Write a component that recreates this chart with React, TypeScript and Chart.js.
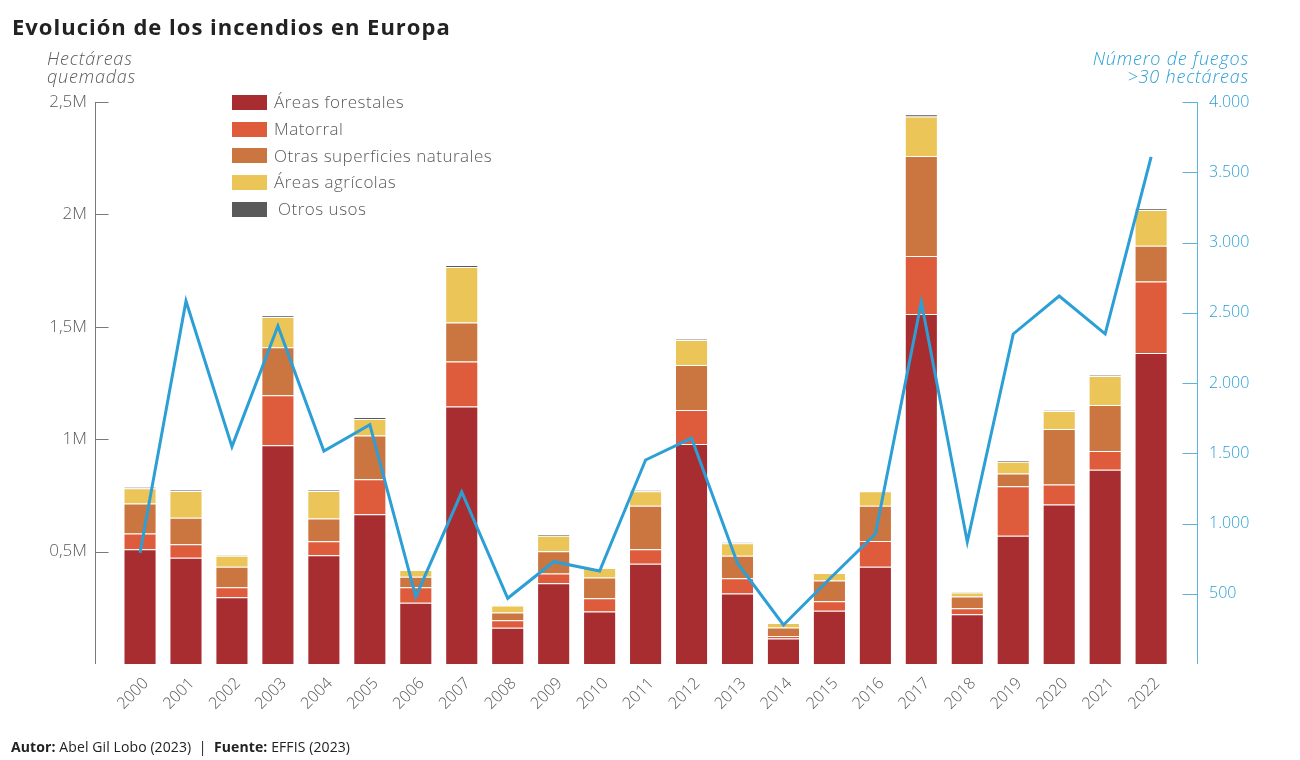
import React, { useEffect, useRef } from 'react';
import { Chart, registerables } from 'chart.js';

Chart.register(...registerables);

// Years on the horizontal axis
const years = [
  '2000', '2001', '2002', '2003', '2004', '2005', '2006', '2007', '2008', '2009', '2010', '2011',
  '2012', '2013', '2014', '2015', '2016', '2017', '2018', '2019', '2020', '2021', '2022',
];

// Burnt area by land cover (hectares)
const forestales = [
  510000, 473000, 297000, 973000, 484000, 666000, 273000, 1146000, 161000, 359000, 233000, 446000,
  979000, 314000, 113000, 237000, 433000, 1557000, 221000, 571000, 710000, 864000, 1383000,
];
const matorral = [
  71000, 60000, 44000, 222000, 62000, 156000, 68000, 200000, 34000, 44000, 60000, 64000,
  151000, 68000, 12000, 42000, 114000, 258000, 27000, 220000, 89000, 83000, 319000,
];
const otrasNaturales = [
  133000, 118000, 92000, 214000, 101000, 194000, 47000, 173000, 34000, 99000, 92000, 194000,
  200000, 99000, 37000, 92000, 157000, 445000, 52000, 56000, 246000, 205000, 158000,
];
const agricolas = [
  68000, 119000, 49000, 135000, 123000, 74000, 30000, 247000, 31000, 69000, 42000, 65000,
  111000, 56000, 20000, 34000, 64000, 175000, 18000, 53000, 80000, 129000, 160000,
];
const otrosUsos = [
  5000, 4000, 2000, 6000, 4000, 8000, 1000, 9000, 1000, 5000, 1000, 4000,
  4000, 4000, 0, 0, 1000, 11000, 2000, 5000, 4000, 4000, 6000,
];

// Number of fires larger than 30 ha
const fuegos = [
  792, 2583, 1547, 2406, 1516, 1703, 479, 1224, 468, 728, 662, 1452,
  1608, 717, 278, 605, 925, 2576, 870, 2349, 2619, 2349, 3610,
];

// Axis tick values and their labels
const areaTicks = [0, 500000, 1000000, 1500000, 2000000, 2500000];
const areaTickLabels = ['', '0,5M', '1M', '1,5M', '2M', '2,5M'];
const fireTicks = [0, 500, 1000, 1500, 2000, 2500, 3000, 3500, 4000];
const fireTickLabels = ['', '500', '1.000', '1.500', '2.000', '2.500', '3.000', '3.500', '4.000'];

const seriesNames = ['Áreas forestales', 'Matorral', 'Otras superficies naturales', 'Áreas agrícolas', 'Otros usos'];
const seriesColors = ['#a82d31', '#de5c3b', '#cb7540', '#ebc558', '#5a5a5a'];
const seriesValues = [forestales, matorral, otrasNaturales, agricolas, otrosUsos];

const FONT = "'Open Sans', 'DejaVu Sans', sans-serif";
const GRAY = '#5a5a5a';
const BLUE = '#2b9fd6';

// Draws the two vertical axis lines with short inward ticks
const axisFrame = {
  id: 'axisFrame',
  beforeDatasetsDraw(chart: any) {
    const { ctx, chartArea, scales } = chart;
    ctx.save();
    ctx.lineWidth = 1;

    const xl = Math.round(chartArea.left) + 0.5;
    ctx.strokeStyle = '#7a7a7a';
    ctx.beginPath();
    ctx.moveTo(xl, chartArea.top);
    ctx.lineTo(xl, chartArea.bottom);
    scales.y.ticks.forEach((t: any) => {
      if (t.value === 0) return;
      const py = Math.round(scales.y.getPixelForValue(t.value)) + 0.5;
      ctx.moveTo(xl, py);
      ctx.lineTo(xl + 13, py);
    });
    ctx.stroke();

    const xr = Math.round(chartArea.right) - 0.5;
    ctx.strokeStyle = '#5fb4de';
    ctx.beginPath();
    ctx.moveTo(xr, chartArea.top);
    ctx.lineTo(xr, chartArea.bottom);
    scales.y1.ticks.forEach((t: any) => {
      if (t.value === 0) return;
      const py = Math.round(scales.y1.getPixelForValue(t.value)) + 0.5;
      ctx.moveTo(xr, py);
      ctx.lineTo(xr - 15, py);
    });
    ctx.stroke();
    ctx.restore();
  },
};

function FireChart() {
  const canvasRef = useRef<HTMLCanvasElement | null>(null);

  useEffect(() => {
    if (!canvasRef.current) return;

    const barSets = seriesNames.map((name, k) => ({
      type: 'bar' as const,
      label: name,
      data: seriesValues[k].map((v, i) => ({ x: i, y: v })),
      backgroundColor: seriesColors[k],
      borderColor: 'rgba(255,255,255,0.3)',
      borderWidth: 1,
      yAxisID: 'y',
      stack: 'area',
      order: 1,
      barPercentage: 0.72,
      categoryPercentage: 1,
    }));

    const lineSet = {
      type: 'line' as const,
      label: 'Número de fuegos',
      data: fuegos.map((v, i) => ({ x: i, y: v })),
      borderColor: BLUE,
      backgroundColor: BLUE,
      borderWidth: 3,
      pointRadius: 0,
      tension: 0,
      yAxisID: 'y1',
      order: 0,
    };

    const chart = new Chart(canvasRef.current, {
      type: 'bar',
      data: { datasets: [...barSets, lineSet] as any },
      options: {
        animation: false,
        responsive: false,
        maintainAspectRatio: false,
        layout: { padding: { top: 102, left: 0, right: 0, bottom: 0 } },
        plugins: {
          legend: { display: false },
          tooltip: { enabled: false },
        },
        scales: {
          x: {
            type: 'linear',
            offset: false,
            min: -0.98,
            max: 23.02,
            stacked: true,
            grid: { display: false, offset: false },
            border: { display: false },
            afterBuildTicks: (s: any) => {
              s.ticks = years.map((_, i) => ({ value: i }));
            },
            afterFit: (s: any) => {
              s.height = 96;
            },
            ticks: {
              autoSkip: false,
              minRotation: 45,
              maxRotation: 45,
              padding: 2,
              labelOffset: 6,
              color: GRAY,
              font: { family: FONT, size: 16, weight: 300 },
              callback: (v: any) => years[v] ?? '',
            },
          },
          y: {
            position: 'left',
            min: 0,
            max: 2500000,
            stacked: true,
            grid: { display: false, drawTicks: false },
            border: { display: false },
            afterBuildTicks: (s: any) => {
              s.ticks = areaTicks.map((v) => ({ value: v }));
            },
            afterFit: (s: any) => {
              s.width = 95;
            },
            ticks: {
              padding: 8,
              color: GRAY,
              font: { family: FONT, size: 17, weight: 300 },
              callback: (v: any) => areaTickLabels[areaTicks.indexOf(v)] ?? '',
            },
          },
          y1: {
            position: 'right',
            min: 0,
            max: 4000,
            grid: { display: false, drawTicks: false },
            border: { display: false },
            afterBuildTicks: (s: any) => {
              s.ticks = fireTicks.map((v) => ({ value: v }));
            },
            afterFit: (s: any) => {
              s.width = 102;
            },
            ticks: {
              padding: 11,
              color: BLUE,
              font: { family: FONT, size: 16, weight: 300 },
              callback: (v: any) => fireTickLabels[fireTicks.indexOf(v)] ?? '',
            },
          },
        },
      } as any,
      plugins: [axisFrame],
    });

    return () => chart.destroy();
  }, []);

  return <canvas ref={canvasRef} width={1300} height={760} style={{ display: 'block' }} />;
}

function Legend() {
  return (
    <div style={{ position: 'absolute', left: 232, top: 89 }}>
      {seriesNames.map((name, k) => (
        <div key={name} style={{ display: 'flex', alignItems: 'center', height: 26.7 }}>
          <span
            style={{
              display: 'inline-block',
              width: 35,
              height: 15,
              background: seriesColors[k],
              marginRight: k === 4 ? 11 : 7,
            }}
          />
          <span style={{ fontSize: 17, fontWeight: 300, color: GRAY, lineHeight: '20px', letterSpacing: 0.5 }}>
            {name}
          </span>
        </div>
      ))}
    </div>
  );
}

export default function App() {
  return (
    <div
      style={{
        position: 'absolute',
        left: 0,
        top: 0,
        width: 1300,
        height: 760,
        background: '#ffffff',
        fontFamily: FONT,
        overflow: 'hidden',
      }}
    >
      <FireChart />
      <div
        style={{
          position: 'absolute',
          left: 12,
          top: 12,
          fontSize: 22,
          fontWeight: 700,
          color: '#222222',
          lineHeight: '28px',
          letterSpacing: 1,
          whiteSpace: 'nowrap',
        }}
      >
        Evolución de los incendios en Europa
      </div>
      <div
        style={{
          position: 'absolute',
          left: 47,
          top: 49,
          fontSize: 18,
          fontWeight: 300,
          fontStyle: 'italic',
          color: GRAY,
          lineHeight: '18px',
          letterSpacing: 0.8,
        }}
      >
        Hectáreas
        <br />
        quemadas
      </div>
      <div
        style={{
          position: 'absolute',
          right: 51,
          top: 49,
          fontSize: 18,
          fontWeight: 300,
          fontStyle: 'italic',
          color: BLUE,
          lineHeight: '18px',
          letterSpacing: 0.8,
          textAlign: 'right',
        }}
      >
        Número de fuegos
        <br />
        &gt;30 hectáreas
      </div>
      <Legend />
      <div
        style={{
          position: 'absolute',
          left: 11,
          top: 737,
          fontSize: 14,
          color: '#222222',
          lineHeight: '20px',
          letterSpacing: 0.1,
          whiteSpace: 'nowrap',
        }}
      >
        <b>Autor:</b> Abel Gil Lobo (2023) &nbsp;|&nbsp; <b>Fuente:</b> EFFIS (2023)
      </div>
    </div>
  );
}
